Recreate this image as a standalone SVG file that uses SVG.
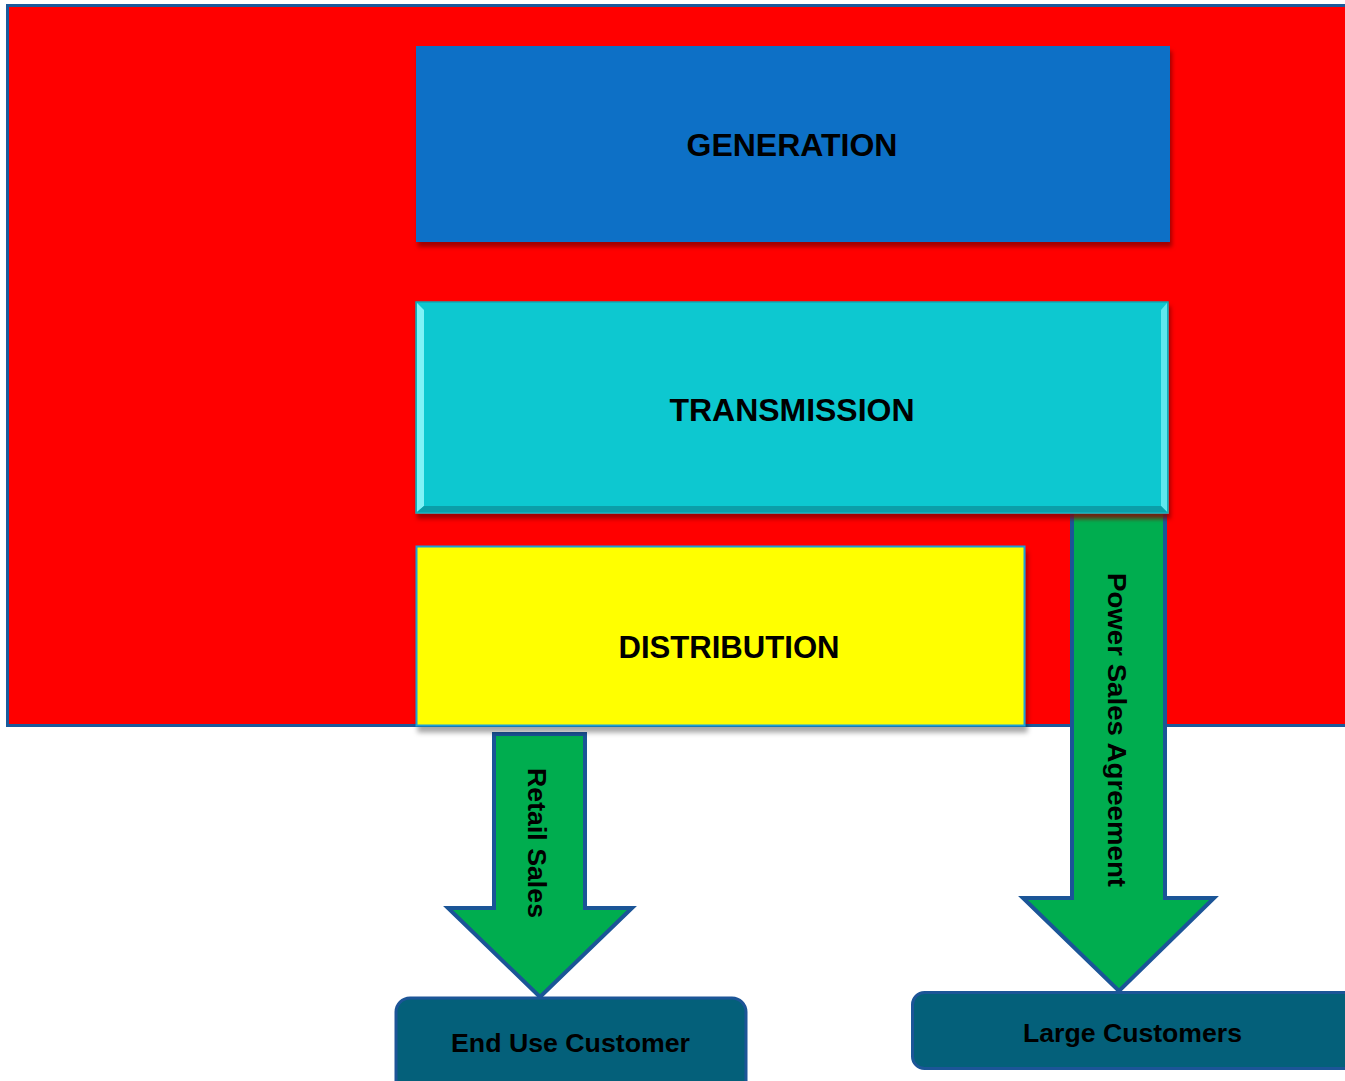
<svg xmlns="http://www.w3.org/2000/svg" width="1345" height="1081" viewBox="0 0 1345 1081">
<style>
.lbl{font-family:"Liberation Sans",Arial,sans-serif;font-weight:bold;fill:#000;text-anchor:middle}
.big{font-size:31px}
.small{font-size:26px}
.arrow{fill:#00ad4f;stroke:#1b5597;stroke-width:4;stroke-linejoin:miter}
.cust{fill:#04607a;stroke:#1c5597;stroke-width:3}
</style>
<defs>
<filter id="shRed" x="-5%" y="-5%" width="110%" height="120%">
<feGaussianBlur in="SourceAlpha" stdDeviation="2"/>
<feOffset dx="2" dy="5" result="o"/>
<feFlood flood-color="#8a0000" flood-opacity="0.8"/>
<feComposite in2="o" operator="in"/>
<feMerge><feMergeNode/><feMergeNode in="SourceGraphic"/></feMerge>
</filter>
<filter id="shGray" x="-5%" y="-5%" width="110%" height="120%">
<feGaussianBlur in="SourceAlpha" stdDeviation="2.5"/>
<feOffset dx="2" dy="6" result="o"/>
<feFlood flood-color="#000" flood-opacity="0.35"/>
<feComposite in2="o" operator="in"/>
<feMerge><feMergeNode/><feMergeNode in="SourceGraphic"/></feMerge>
</filter>
</defs>
<rect width="1345" height="1081" fill="#fff"/>
<g id="background">
<rect x="7.5" y="5.5" width="1345" height="720" fill="#ff0000" stroke="#1b5a9b" stroke-width="3"/>
</g>
<g id="connectors">
<path class="arrow" d="M1072,508 L1165,508 L1165,898 L1214,898 L1119,991 L1023,898 L1072,898 Z"/>
<path class="arrow" d="M494,734 L585,734 L585,908 L632,908 L540,997 L448,908 L494,908 Z"/>
</g>
<g id="generation">
<rect x="416" y="46" width="754" height="196" fill="#1170c6" filter="url(#shRed)"/>
<text class="lbl big" x="792" y="156" textLength="211" lengthAdjust="spacingAndGlyphs">GENERATION</text>
</g>
<g id="transmission">
<rect x="416" y="302" width="752" height="211" fill="#10c8d0" stroke="#0aa8b4" stroke-width="1.5" filter="url(#shRed)"/>
<path d="M417,303 L424,310 L424,506 L417,512 Z" fill="#7ff2f6"/>
<path d="M1167,303 L1161,310 L1161,506 L1167,512 Z" fill="#5fe8ee"/>
<path d="M417,512 L424,506 L1161,506 L1167,512 Z" fill="#0b9ea8"/>
<text class="lbl big" x="792" y="421" textLength="245" lengthAdjust="spacingAndGlyphs">TRANSMISSION</text>
</g>
<g id="distribution">
<rect x="416.5" y="546.5" width="608" height="179" fill="#ffff00" stroke="#1a9fd9" stroke-width="2" filter="url(#shGray)"/>
<text class="lbl big" x="729" y="658" textLength="221" lengthAdjust="spacingAndGlyphs">DISTRIBUTION</text>
</g>
<g id="retail-sales-label">
<text class="lbl small" transform="translate(528,843) rotate(90)" x="0" y="0" textLength="150" lengthAdjust="spacingAndGlyphs">Retail Sales</text>
</g>
<g id="power-sales-label">
<text class="lbl small" transform="translate(1108,730) rotate(90)" x="0" y="0" textLength="314" lengthAdjust="spacingAndGlyphs">Power Sales Agreement</text>
</g>
<g id="end-use-customer">
<rect class="cust" x="396" y="998" width="350" height="100" rx="14"/>
<text class="lbl small" x="570.5" y="1052" textLength="239" lengthAdjust="spacingAndGlyphs">End Use Customer</text>
</g>
<g id="large-customers">
<rect class="cust" x="912.5" y="992.5" width="460" height="76" rx="12"/>
<text class="lbl small" x="1132.5" y="1042" textLength="219" lengthAdjust="spacingAndGlyphs">Large Customers</text>
</g>
</svg>
